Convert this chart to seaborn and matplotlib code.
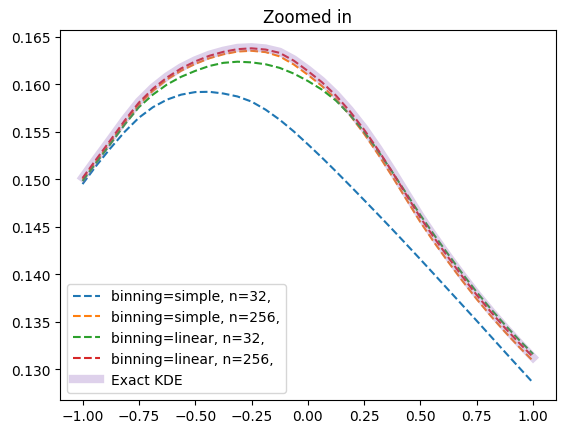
import numpy as np
import pandas as pd
import matplotlib
matplotlib.use("Agg")
import matplotlib.pyplot as plt
import seaborn as sns

# 读取自图片的数值 (x 步长 0.0625)
x_vals = [-1.0, -0.9375, -0.875, -0.8125, -0.75, -0.6875, -0.625, -0.5625, -0.5,
          -0.4375, -0.375, -0.3125, -0.25, -0.1875, -0.125, -0.0625, 0.0,
          0.0625, 0.125, 0.1875, 0.25, 0.3125, 0.375, 0.4375, 0.5,
          0.5625, 0.625, 0.6875, 0.75, 0.8125, 0.875, 0.9375, 1.0]

simple_32 = [0.14949, 0.15147, 0.15330, 0.15501, 0.15648, 0.15759, 0.15839, 0.15891, 0.15918,
             0.15921, 0.15903, 0.15872, 0.15818, 0.15733, 0.15627, 0.15504, 0.15368,
             0.15228, 0.15082, 0.14932, 0.14780, 0.14627, 0.14472, 0.14314, 0.14155,
             0.13994, 0.13832, 0.13670, 0.13508, 0.13344, 0.13180, 0.13017, 0.12855]
simple_256 = [0.14997, 0.15197, 0.15394, 0.15598, 0.15786, 0.15933, 0.16051, 0.16143, 0.16215,
              0.16274, 0.16316, 0.16345, 0.16353, 0.16339, 0.16294, 0.16209, 0.16100,
              0.15982, 0.15844, 0.15674, 0.15479, 0.15261, 0.15029, 0.14787, 0.14547,
              0.14329, 0.14123, 0.13925, 0.13736, 0.13559, 0.13392, 0.13234, 0.13085]
linear_32 = [0.14981, 0.15179, 0.15375, 0.15577, 0.15759, 0.15892, 0.15998, 0.16079, 0.16141,
             0.16193, 0.16226, 0.16238, 0.16231, 0.16211, 0.16173, 0.16113, 0.16035,
             0.15944, 0.15828, 0.15677, 0.15500, 0.15296, 0.15076, 0.14849, 0.14621,
             0.14407, 0.14202, 0.14001, 0.13810, 0.13633, 0.13466, 0.13308, 0.13159]
linear_256 = [0.15013, 0.15215, 0.15415, 0.15620, 0.15807, 0.15954, 0.16072, 0.16167, 0.16241,
              0.16300, 0.16342, 0.16370, 0.16379, 0.16366, 0.16331, 0.16249, 0.16140,
              0.16022, 0.15881, 0.15713, 0.15521, 0.15307, 0.15076, 0.14834, 0.14594,
              0.14377, 0.14171, 0.13970, 0.13779, 0.13602, 0.13434, 0.13276, 0.13127]
exact_kde = [0.15018, 0.15224, 0.15426, 0.15631, 0.15818, 0.15965, 0.16083, 0.16178, 0.16252,
             0.16311, 0.16353, 0.16383, 0.16390, 0.16377, 0.16342, 0.16262, 0.16155,
             0.16035, 0.15892, 0.15726, 0.15537, 0.15323, 0.15092, 0.14850, 0.14610,
             0.14390, 0.14181, 0.13980, 0.13789, 0.13610, 0.13440, 0.13277, 0.13122]

series = [
    ("binning=simple, n=32,", simple_32, "#1f77b4"),
    ("binning=simple, n=256,", simple_256, "#ff7f0e"),
    ("binning=linear, n=32,", linear_32, "#2ca02c"),
    ("binning=linear, n=256,", linear_256, "#d62728"),
]

fig, ax = plt.subplots(figsize=(5.65, 4.35), dpi=100)
fig.subplots_adjust(left=0.1062, right=0.9835, top=0.9276, bottom=0.0789)

for label, ys, c in series:
    sns.lineplot(x=x_vals, y=ys, ax=ax, label=label, color=c, linestyle="--", lw=1.5)

sns.lineplot(x=x_vals, y=exact_kde, ax=ax, label="Exact KDE", color="#9467bd", lw=6, alpha=0.3)

ax.set_title("Zoomed in")
ax.legend(loc="lower left")

fig.savefig("out.png", dpi=100)
